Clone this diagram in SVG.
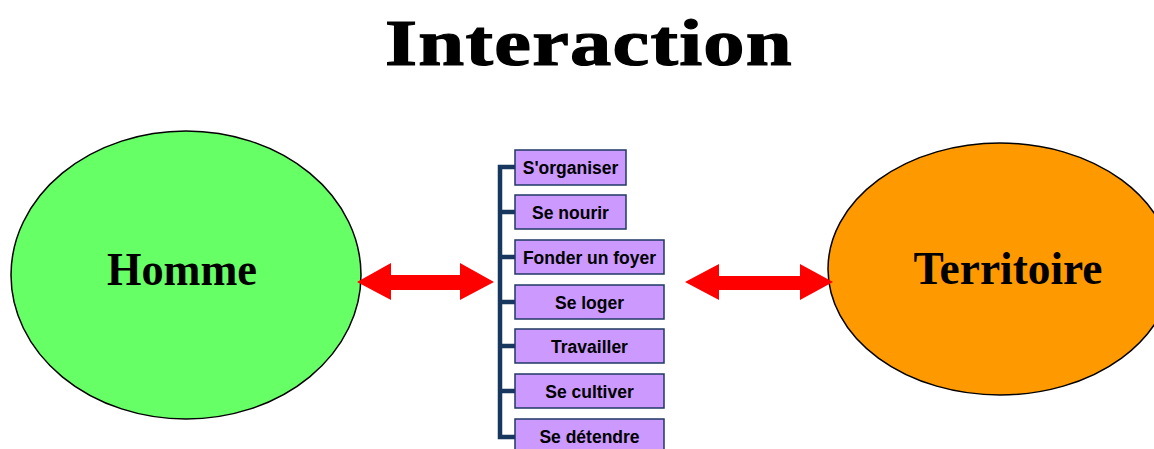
<svg xmlns="http://www.w3.org/2000/svg" width="1154" height="449" viewBox="0 0 1154 449">
<style>
.box{fill:#CC99FF;stroke:#1F3864;stroke-width:1.5}
.bt{font-family:"Liberation Sans",Arial,sans-serif;font-weight:bold;font-size:17.5px;fill:#000;text-anchor:middle}
.big{font-family:"Liberation Serif","Times New Roman",serif;font-weight:bold;fill:#000;text-anchor:middle}
.arrow{fill:#FF0000}
.tree{fill:none;stroke:#17375E;stroke-width:4.5}
</style>
<rect width="1154" height="449" fill="#fff"/>
<text class="big" x="589" y="65" font-size="66" textLength="408" lengthAdjust="spacingAndGlyphs" letter-spacing="1" stroke="#000" stroke-width="1.2">Interaction</text>
<g id="homme">
<ellipse cx="186" cy="275" rx="175" ry="144" fill="#66FF66" stroke="#000" stroke-width="1.5"/>
<text class="big" x="182" y="285" font-size="46" textLength="150" lengthAdjust="spacingAndGlyphs">Homme</text>
</g>
<g id="territoire">
<ellipse cx="1000" cy="269" rx="172" ry="126" fill="#FF9900" stroke="#000" stroke-width="1.5"/>
<text class="big" x="1008" y="284" font-size="46" textLength="189" lengthAdjust="spacingAndGlyphs">Territoire</text>
</g>
<g id="connectors">
<path class="tree" d="M515 167 H500 V437 H515 M500 212 H515 M500 257 H515 M500 302 H515 M500 346 H515 M500 391 H515"/>
<polygon class="arrow" points="357,282 391,263 391,275 460,275 460,263 494,282 460,300 460,290 391,290 391,300"/>
<polygon class="arrow" points="685,282 719,264 719,276 800,276 800,264 833,282 800,300 800,290 719,290 719,300"/>
</g>
<g id="s-organiser"><rect class="box" x="515" y="150" width="111" height="35"/><text class="bt" x="570.5" y="174">S'organiser</text></g>
<g id="se-nourir"><rect class="box" x="515" y="195" width="111" height="34"/><text class="bt" x="570.5" y="218.5">Se nourir</text></g>
<g id="fonder-un-foyer"><rect class="box" x="515" y="240" width="149" height="34"/><text class="bt" x="589.5" y="263.5">Fonder un foyer</text></g>
<g id="se-loger"><rect class="box" x="515" y="285" width="149" height="34"/><text class="bt" x="589.5" y="308.5">Se loger</text></g>
<g id="travailler"><rect class="box" x="515" y="329" width="149" height="34"/><text class="bt" x="589.5" y="352.5">Travailler</text></g>
<g id="se-cultiver"><rect class="box" x="515" y="374" width="149" height="34"/><text class="bt" x="589.5" y="397.5">Se cultiver</text></g>
<g id="se-detendre"><rect class="box" x="515" y="419" width="149" height="34"/><text class="bt" x="589.5" y="442.5">Se détendre</text></g>
</svg>
